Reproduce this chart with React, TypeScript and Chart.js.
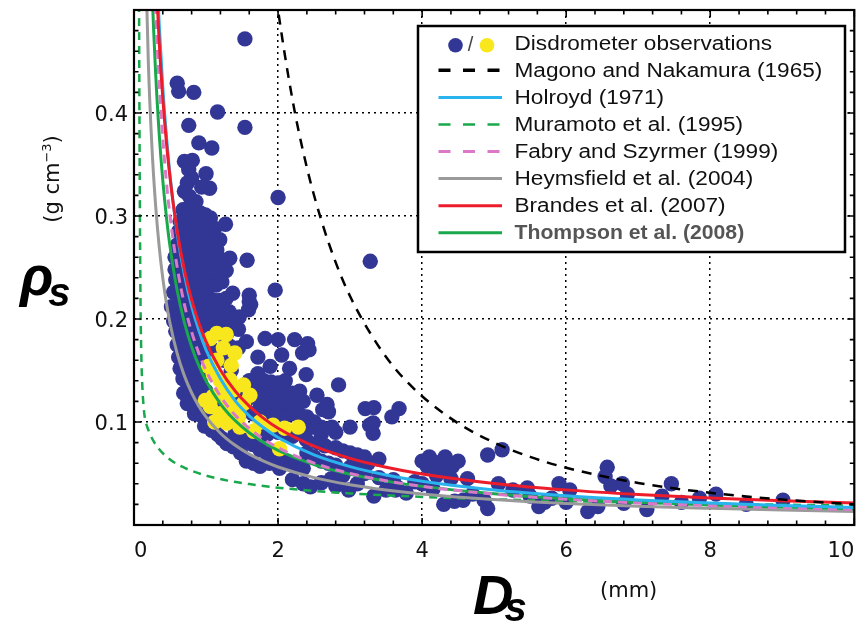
import React, { useEffect, useRef } from 'react';
import { Chart, registerables } from 'chart.js';

Chart.register(...registerables);

// ---------- tick labels ----------
const xTickLabels = [0, 2, 4, 6, 8, 10];
const yTickLabels = [0.1, 0.2, 0.3, 0.4];

// ---------- legend names ----------
const seriesNames = [
  'Disdrometer observations',
  'Magono and Nakamura (1965)',
  'Holroyd (1971)',
  'Muramoto et al. (1995)',
  'Fabry and Szyrmer (1999)',
  'Heymsfield et al. (2004)',
  'Brandes et al. (2007)',
  'Thompson et al. (2008)',
];

// ---------- disdrometer observations [Ds (mm), rho (g cm-3)] ----------
const blueObs = [
  [1.54, 0.472], [0.60, 0.429], [0.62, 0.421], [0.83, 0.420], [1.16, 0.401], [0.76, 0.388], [1.54, 0.386],
  [0.90, 0.371], [1.08, 0.366], [0.70, 0.353], [0.81, 0.354], [0.76, 0.345], [1.00, 0.341], [0.80, 0.337],
  [1.05, 0.327], [0.70, 0.324], [0.77, 0.319], [0.86, 0.314], [2.00, 0.318], [0.74, 0.332], [0.94, 0.328],
  [3.28, 0.256], [1.96, 0.228],
  [0.68, 0.306], [0.76, 0.308], [0.84, 0.304], [0.92, 0.303], [0.99, 0.301], [1.06, 0.298],
  [0.64, 0.295], [0.72, 0.296], [0.80, 0.294], [0.88, 0.293], [0.96, 0.291], [1.04, 0.290], [1.12, 0.288], [1.27, 0.292],
  [0.62, 0.285], [0.70, 0.284], [0.78, 0.283], [0.86, 0.282], [0.94, 0.281], [1.02, 0.280], [1.10, 0.279], [1.19, 0.277],
  [0.60, 0.272], [0.67, 0.274], [0.75, 0.272], [0.83, 0.271], [0.91, 0.270], [0.99, 0.269], [1.07, 0.268], [1.15, 0.267],
  [0.57, 0.260], [0.64, 0.262], [0.72, 0.261], [0.80, 0.260], [0.88, 0.259], [0.96, 0.258], [1.04, 0.257], [1.12, 0.256],
  [1.20, 0.258], [1.33, 0.259], [1.57, 0.257],
  [0.57, 0.248], [0.65, 0.250], [0.73, 0.249], [0.81, 0.248], [0.89, 0.247], [0.97, 0.246], [1.05, 0.245], [1.13, 0.244],
  [1.21, 0.246], [1.28, 0.247],
  [0.58, 0.238], [0.66, 0.237], [0.74, 0.236], [0.82, 0.235], [0.90, 0.234], [0.98, 0.233], [1.06, 0.232], [1.14, 0.233],
  [1.22, 0.236], [1.37, 0.225], [1.60, 0.223],
  [0.55, 0.226], [0.63, 0.224], [0.71, 0.223], [0.79, 0.222], [0.87, 0.221], [0.95, 0.220], [1.03, 0.219], [1.11, 0.218],
  [1.19, 0.218], [1.28, 0.220], [1.60, 0.217],
  [0.52, 0.212], [0.60, 0.211], [0.68, 0.210], [0.76, 0.209], [0.84, 0.208], [0.92, 0.207], [1.00, 0.206], [1.08, 0.205],
  [1.16, 0.205], [1.24, 0.206], [1.32, 0.207], [1.46, 0.202], [1.59, 0.209], [1.62, 0.214],
  [0.55, 0.198], [0.63, 0.201], [0.71, 0.197], [0.79, 0.196], [0.87, 0.195], [0.95, 0.194], [1.03, 0.195], [1.11, 0.196],
  [1.20, 0.195], [1.30, 0.196], [1.38, 0.200],
  [0.58, 0.188], [0.68, 0.186], [0.76, 0.185], [0.84, 0.184], [0.92, 0.183], [1.00, 0.184], [1.22, 0.185], [1.30, 0.187], [1.45, 0.190],
  [0.60, 0.175], [0.68, 0.174], [0.76, 0.173], [0.84, 0.172], [0.92, 0.171], [1.32, 0.174], [1.45, 0.172], [1.56, 0.178],
  [0.62, 0.163], [0.70, 0.162], [0.78, 0.161], [0.86, 0.160], [1.72, 0.163],
  [0.64, 0.152], [0.72, 0.151], [0.80, 0.150], [0.88, 0.149], [1.72, 0.147], [1.89, 0.154], [2.16, 0.152],
  [1.82, 0.181], [2.00, 0.180], [2.23, 0.180], [2.41, 0.176], [2.05, 0.165], [2.34, 0.167], [2.43, 0.170], [2.39, 0.146],
  [1.00, 0.130], [1.10, 0.120], [1.20, 0.110], [1.30, 0.105], [1.40, 0.100], [1.50, 0.110], [1.45, 0.125], [1.55, 0.120],
  [1.35, 0.150], [1.25, 0.160], [1.10, 0.170], [1.00, 0.165], [0.95, 0.150],
  [0.68, 0.142], [0.76, 0.141], [0.84, 0.140], [0.92, 0.139], [1.60, 0.140], [1.70, 0.138], [1.80, 0.140], [1.90, 0.139],
  [2.00, 0.138], [2.10, 0.140], [2.84, 0.136],
  [0.69, 0.128], [0.78, 0.129], [0.86, 0.128], [1.70, 0.128], [1.80, 0.127], [1.90, 0.126], [2.00, 0.128], [2.10, 0.130],
  [2.20, 0.128], [2.30, 0.130], [2.54, 0.126],
  [0.74, 0.118], [0.82, 0.118], [0.90, 0.116], [1.75, 0.118], [1.85, 0.117], [1.95, 0.116], [2.05, 0.118], [2.15, 0.117],
  [2.25, 0.118], [2.35, 0.120], [2.62, 0.112], [2.68, 0.117],
  [0.84, 0.108], [0.94, 0.106], [1.02, 0.102], [1.65, 0.108], [1.80, 0.107], [1.90, 0.106], [2.00, 0.107], [2.10, 0.106],
  [2.20, 0.108], [2.30, 0.107], [2.40, 0.105], [2.70, 0.110], [3.21, 0.113], [3.33, 0.114], [3.68, 0.113], [3.58, 0.105], [3.27, 0.097],
  [2.50, 0.100], [2.60, 0.095], [2.80, 0.090],
  [0.98, 0.096], [1.08, 0.092], [1.16, 0.088], [1.22, 0.084], [1.29, 0.079], [1.38, 0.076], [1.48, 0.070], [1.56, 0.062],
  [1.66, 0.060], [1.75, 0.057],
  [1.40, 0.088], [1.55, 0.082], [1.65, 0.078], [1.75, 0.073], [1.85, 0.069], [1.95, 0.066], [2.05, 0.063], [2.15, 0.060],
  [2.25, 0.057], [2.35, 0.055], [1.88, 0.060], [2.02, 0.055],
  [1.85, 0.088], [2.00, 0.090], [2.10, 0.088], [2.20, 0.086], [2.35, 0.092], [2.48, 0.095], [2.60, 0.088], [2.75, 0.095],
  [3.00, 0.095], [3.32, 0.099], [3.32, 0.089], [2.39, 0.083], [2.55, 0.080], [2.65, 0.077], [2.80, 0.075], [2.90, 0.072],
  [3.00, 0.070], [3.10, 0.068], [3.20, 0.066], [3.40, 0.064],
  [2.40, 0.070], [2.50, 0.066], [2.60, 0.062], [2.70, 0.060], [2.80, 0.058], [3.00, 0.056], [3.09, 0.057], [3.25, 0.060],
  [2.74, 0.045], [2.90, 0.048], [3.20, 0.050], [3.40, 0.046], [3.60, 0.044], [3.63, 0.034], [3.78, 0.031], [3.33, 0.028],
  [3.50, 0.034], [3.65, 0.037],
  [2.20, 0.044], [2.35, 0.040], [2.45, 0.037], [2.60, 0.041], [2.80, 0.038], [2.98, 0.034], [3.10, 0.040],
  [4.00, 0.062], [4.10, 0.066], [4.17, 0.061], [4.32, 0.066], [4.07, 0.057], [4.27, 0.053], [4.42, 0.057], [4.50, 0.062],
  [4.20, 0.048], [4.91, 0.068], [5.11, 0.073], [4.63, 0.045], [4.40, 0.045],
  [4.30, 0.020], [4.45, 0.023], [4.57, 0.024], [4.86, 0.024], [4.91, 0.016], [4.70, 0.030], [5.06, 0.040], [5.26, 0.034],
  [5.46, 0.036], [5.62, 0.018], [5.70, 0.022], [5.90, 0.040], [6.05, 0.034], [6.30, 0.013], [6.44, 0.018], [6.57, 0.056],
  [6.54, 0.047], [6.62, 0.038], [6.78, 0.040], [6.85, 0.030], [6.80, 0.021], [7.12, 0.015], [7.33, 0.028], [7.46, 0.040],
  [7.85, 0.026], [8.08, 0.030], [9.01, 0.024], [5.50, 0.028], [5.80, 0.026], [6.00, 0.022], [7.60, 0.022], [8.50, 0.020],
  [4.00, 0.040], [4.15, 0.035], [3.90, 0.042],
];

const yellowObs = [
  [1.15, 0.186], [1.06, 0.181], [1.24, 0.172], [1.40, 0.167], [1.15, 0.160], [1.03, 0.154], [1.10, 0.146], [1.20, 0.140],
  [1.33, 0.141], [1.52, 0.136], [1.38, 0.131], [1.24, 0.129], [1.10, 0.125], [1.61, 0.126], [0.99, 0.121], [1.30, 0.120],
  [1.06, 0.115], [1.52, 0.118], [1.38, 0.112], [1.20, 0.108], [1.45, 0.105], [1.12, 0.100], [1.29, 0.099], [1.47, 0.095],
  [1.66, 0.091], [1.75, 0.100], [1.93, 0.097], [2.09, 0.094], [2.28, 0.095], [2.02, 0.074], [1.35, 0.155], [1.28, 0.185],
];

// ---------- parameterisation curves (values read along Ds) ----------
const curveD = [0.15, 0.2, 0.25, 0.3, 0.35, 0.4, 0.45, 0.5, 0.6, 0.7, 0.8, 0.9, 1.0, 1.2, 1.4, 1.6, 1.8, 2.0, 2.5, 3.0, 3.5, 4, 5, 6, 7, 8, 9, 10];
const holroydRho = [1.133, 0.85, 0.68, 0.567, 0.486, 0.425, 0.378, 0.34, 0.283, 0.243, 0.2125, 0.189, 0.17, 0.142, 0.121, 0.106, 0.0944, 0.085, 0.068, 0.0567, 0.0486, 0.0425, 0.034, 0.0283, 0.0243, 0.0213, 0.0189, 0.017];
const fabryRho = [1.0, 0.75, 0.6, 0.5, 0.429, 0.375, 0.333, 0.3, 0.25, 0.214, 0.1875, 0.1667, 0.15, 0.125, 0.107, 0.0938, 0.0833, 0.075, 0.06, 0.05, 0.0429, 0.0375, 0.03, 0.025, 0.0214, 0.0188, 0.0167, 0.015];
const brandesRho = [1.024, 0.785, 0.639, 0.54, 0.4686, 0.4143, 0.3717, 0.3373, 0.2851, 0.2473, 0.2187, 0.1962, 0.178, 0.1505, 0.1305, 0.1154, 0.1035, 0.0939, 0.0765, 0.0647, 0.0561, 0.0496, 0.0404, 0.0341, 0.0296, 0.0262, 0.0235, 0.0213];
const heymsfieldRho = [0.579, 0.447, 0.3656, 0.3103, 0.2701, 0.2395, 0.2154, 0.1959, 0.1663, 0.1448, 0.1284, 0.1154, 0.105, 0.0891, 0.0776, 0.0688, 0.0619, 0.0563, 0.046, 0.0391, 0.034, 0.0302, 0.0247, 0.0209, 0.0182, 0.0162, 0.0145, 0.0132];
const thompsonRho = [0.849, 0.6458, 0.5225, 0.4394, 0.3795, 0.3343, 0.299, 0.2705, 0.2274, 0.1965, 0.1731, 0.1547, 0.14, 0.1177, 0.1017, 0.0896, 0.0801, 0.0725, 0.0586, 0.0493, 0.0426, 0.0375, 0.0304, 0.0255, 0.0221, 0.0194, 0.0174, 0.0157];

const muramotoD = [0.06, 0.07, 0.08, 0.09, 0.1, 0.115, 0.13, 0.15, 0.18, 0.22, 0.27, 0.35, 0.45, 0.6, 0.8, 1.0, 1.3, 1.6, 2, 2.5, 3, 4, 5, 6, 7, 8, 9, 10];
const muramotoRho = [0.9, 0.52, 0.33, 0.22, 0.17, 0.136, 0.118, 0.104, 0.096, 0.0888, 0.0816, 0.0735, 0.0664, 0.059, 0.0526, 0.048, 0.0431, 0.0397, 0.0362, 0.0331, 0.0307, 0.0273, 0.025, 0.0232, 0.0218, 0.0206, 0.0197, 0.0189];

const magonoD = [1.8, 1.9, 2.0, 2.2, 2.4, 2.6, 2.8, 3.0, 3.3, 3.6, 4.0, 4.5, 5, 5.5, 6, 7, 8, 9, 10];
const magonoRho = [0.617, 0.554, 0.5, 0.413, 0.347, 0.296, 0.255, 0.222, 0.184, 0.154, 0.125, 0.0988, 0.08, 0.0661, 0.0556, 0.0408, 0.0313, 0.0247, 0.02];

// ---------- styles ----------
const C_BLUE = '#323796';
const C_YELLOW = '#f7e71c';
const C_BLACK = '#000000';
const C_CYAN = '#2ab4ee';
const C_GREEN = '#19a84b';
const C_PINK = '#dc78c8';
const C_GRAY = '#9a9a9a';
const C_RED = '#ec1c2a';

const legendStyles = [
  null,
  { color: C_BLACK, dash: [12, 12.5], width: 3.5 },
  { color: C_CYAN, dash: [], width: 3 },
  { color: C_GREEN, dash: [12, 12.5], width: 2.5 },
  { color: C_PINK, dash: [12, 12.5], width: 3 },
  { color: C_GRAY, dash: [], width: 3 },
  { color: C_RED, dash: [], width: 3 },
  { color: C_GREEN, dash: [], width: 3 },
];

const toPts = (arr: number[][]) => arr.map(([x, y]) => ({ x, y }));
const toLine = (xs: number[], ys: number[]) => xs.map((x, i) => ({ x, y: ys[i] }));

const decor = {
  id: 'decor',
  afterDatasetsDraw(chart: any) {
    const { ctx, chartArea: a } = chart;
    const xs = chart.scales.x;
    const ys = chart.scales.y;
    ctx.save();
    ctx.setLineDash([]);
    ctx.strokeStyle = '#000';
    ctx.lineWidth = 1.6;
    ctx.beginPath();
    for (let i = 0; i <= 25; i++) {
      const px = xs.getPixelForValue(i * 0.4);
      const len = i % 5 === 0 ? 7 : 4.5;
      ctx.moveTo(px, a.bottom); ctx.lineTo(px, a.bottom - len);
      ctx.moveTo(px, a.top); ctx.lineTo(px, a.top + len);
    }
    for (let i = 0; i <= 25; i++) {
      const py = ys.getPixelForValue(i * 0.02);
      const len = i % 5 === 0 ? 7 : 4.5;
      ctx.moveTo(a.left, py); ctx.lineTo(a.left + len, py);
      ctx.moveTo(a.right, py); ctx.lineTo(a.right - len, py);
    }
    ctx.stroke();
    ctx.lineWidth = 2.2;
    ctx.strokeRect(a.left, a.top, a.right - a.left, a.bottom - a.top);
    ctx.restore();
  },
  afterDraw(chart: any) {
    const { ctx, chartArea: a } = chart;
    const xs = chart.scales.x;
    const ys = chart.scales.y;
    ctx.save();
    ctx.setLineDash([]);

    // tick labels
    ctx.fillStyle = '#111';
    ctx.font = '21px "DejaVu Sans"';
    ctx.textBaseline = 'alphabetic';
    xTickLabels.forEach((v, i) => {
      const px = xs.getPixelForValue(v);
      ctx.textAlign = i === 0 ? 'left' : i === xTickLabels.length - 1 ? 'right' : 'center';
      ctx.fillText(String(v), px, a.bottom + 32);
    });
    ctx.textAlign = 'right';
    yTickLabels.forEach((v) => {
      const py = ys.getPixelForValue(v);
      ctx.fillText(v.toFixed(1), a.left - 6, py + 7.5);
    });

    // axis titles
    ctx.fillStyle = '#000';
    ctx.textAlign = 'left';
    ctx.font = 'italic bold 55px "Liberation Sans"';
    ctx.fillText('\u03C1', 20, 295);
    const rw = ctx.measureText('\u03C1').width;
    ctx.font = 'italic bold 40px "Liberation Sans"';
    ctx.fillText('s', 20 + rw - 5, 306);

    ctx.font = 'italic bold 56px "Liberation Sans"';
    ctx.fillText('D', 473, 614);
    const dw = ctx.measureText('D').width;
    ctx.font = 'italic bold 40px "Liberation Sans"';
    ctx.fillText('s', 473 + dw - 9, 621);

    ctx.fillStyle = '#111';
    ctx.font = '21px "DejaVu Sans"';
    ctx.fillText('(mm)', 600, 597);

    // rotated unit label (g cm^-3)
    ctx.save();
    ctx.translate(59, 179);
    ctx.rotate(-Math.PI / 2);
    const p1 = '(g cm';
    const p2 = '\u22123';
    const p3 = ')';
    ctx.font = '21px "DejaVu Sans"';
    const w1 = ctx.measureText(p1).width;
    const w3 = ctx.measureText(p3).width;
    ctx.font = '13px "DejaVu Sans"';
    const w2 = ctx.measureText(p2).width;
    const total = w1 + w2 + w3;
    let cx = -total / 2;
    ctx.font = '21px "DejaVu Sans"';
    ctx.fillText(p1, cx, 0);
    cx += w1;
    ctx.font = '13px "DejaVu Sans"';
    ctx.fillText(p2, cx, -8);
    cx += w2;
    ctx.font = '21px "DejaVu Sans"';
    ctx.fillText(p3, cx, 0);
    ctx.restore();

    // legend
    const bx = 418, by = 26, bw = 427, bh = 226;
    ctx.fillStyle = '#fff';
    ctx.fillRect(bx, by, bw, bh);
    ctx.strokeStyle = '#000';
    ctx.lineWidth = 2.5;
    ctx.strokeRect(bx, by, bw, bh);
    const x0 = 438.5, x1 = 502, tx = 514.5;
    seriesNames.forEach((name, i) => {
      const cy = 42.3 + i * 27.06;
      const st = legendStyles[i];
      if (st) {
        ctx.save();
        ctx.strokeStyle = st.color;
        ctx.lineWidth = st.width;
        ctx.setLineDash(st.dash);
        ctx.beginPath();
        ctx.moveTo(x0, cy + 1);
        ctx.lineTo(x1, cy + 1);
        ctx.stroke();
        ctx.restore();
      } else {
        ctx.fillStyle = C_BLUE;
        ctx.beginPath(); ctx.arc(455.5, cy + 3, 7.3, 0, Math.PI * 2); ctx.fill();
        ctx.fillStyle = C_YELLOW;
        ctx.beginPath(); ctx.arc(487, cy + 3, 7.3, 0, Math.PI * 2); ctx.fill();
        ctx.fillStyle = '#444';
        ctx.font = '20px "Liberation Sans"';
        ctx.textAlign = 'center';
        ctx.fillText('/', 470.5, cy + 9);
        ctx.textAlign = 'left';
      }
      const last = i === seriesNames.length - 1;
      ctx.fillStyle = last ? '#555' : '#111';
      ctx.font = (last ? 'bold ' : '') + '20px "Liberation Sans"';
      ctx.save();
      ctx.translate(tx, cy + 7.2);
      ctx.scale(last ? 1.06 : 1.13, 1);
      ctx.textAlign = 'left';
      ctx.fillText(name, 0, 0);
      ctx.restore();
    });
    ctx.restore();
  },
};

export default function App() {
  const ref = useRef<HTMLCanvasElement | null>(null);
  useEffect(() => {
    if (!ref.current) return;
    const curve = (label: string, xs: number[], ys: number[], color: string, dash: number[], width: number, order: number) => ({
      label,
      data: toLine(xs, ys),
      showLine: true,
      borderColor: color,
      backgroundColor: color,
      borderWidth: width,
      borderDash: dash,
      pointRadius: 0,
      pointHoverRadius: 0,
      cubicInterpolationMode: 'monotone',
      fill: false,
      order,
    });
    const gridColor = (max: number) => (c: any) => {
      const v = c.tick ? c.tick.value : 0;
      return v > 1e-6 && v < max - 1e-6 ? '#000' : 'rgba(0,0,0,0)';
    };
    const chart = new Chart(ref.current, {
      type: 'scatter',
      data: {
        datasets: [
          {
            label: 'blue',
            data: toPts(blueObs),
            pointRadius: 7.7,
            pointBackgroundColor: C_BLUE,
            pointBorderColor: C_BLUE,
            pointBorderWidth: 0,
            backgroundColor: C_BLUE,
            borderColor: C_BLUE,
            order: 20,
          },
          {
            label: 'yellow',
            data: toPts(yellowObs),
            pointRadius: 7.7,
            pointBackgroundColor: C_YELLOW,
            pointBorderColor: C_YELLOW,
            pointBorderWidth: 0,
            backgroundColor: C_YELLOW,
            borderColor: C_YELLOW,
            order: 19,
          },
          curve(seriesNames[3], muramotoD, muramotoRho, C_GREEN, [8, 6], 2.5, 8),
          curve(seriesNames[5], curveD, heymsfieldRho, C_GRAY, [], 3, 7),
          curve(seriesNames[7], curveD, thompsonRho, C_GREEN, [], 3, 6),
          curve(seriesNames[4], curveD, fabryRho, C_PINK, [9, 6], 3, 5),
          curve(seriesNames[2], curveD, holroydRho, C_CYAN, [], 3, 4),
          curve(seriesNames[6], curveD, brandesRho, C_RED, [], 3, 3),
          curve(seriesNames[1], magonoD, magonoRho, C_BLACK, [10, 8], 2.5, 2),
        ] as any,
      },
      options: {
        animation: false,
        responsive: false,
        events: [],
        layout: { padding: { left: 0, right: 3, top: 10, bottom: 0 } },
        plugins: { legend: { display: false }, tooltip: { enabled: false }, title: { display: false } },
        scales: {
          x: {
            type: 'linear',
            min: 0,
            max: 10,
            ticks: { stepSize: 2, display: false },
            grid: { color: gridColor(10), lineWidth: 1.5, drawTicks: false },
            border: { display: false, dash: [2, 4] },
            afterFit: (s: any) => { s.height = 99; s.paddingLeft = 0; s.paddingRight = 0; },
          },
          y: {
            type: 'linear',
            min: 0,
            max: 0.5,
            ticks: { stepSize: 0.1, display: false },
            grid: { color: gridColor(0.5), lineWidth: 1.5, drawTicks: false },
            border: { display: false, dash: [2, 4] },
            afterFit: (s: any) => { s.width = 134; s.paddingTop = 0; s.paddingBottom = 0; },
          },
        },
      } as any,
      plugins: [decor],
    });
    return () => chart.destroy();
  }, []);
  return (
    <div style={{ position: 'fixed', left: 0, top: 0, width: 862, height: 624, background: '#fff' }}>
      <canvas ref={ref} width={862} height={624} style={{ display: 'block' }} />
    </div>
  );
}
